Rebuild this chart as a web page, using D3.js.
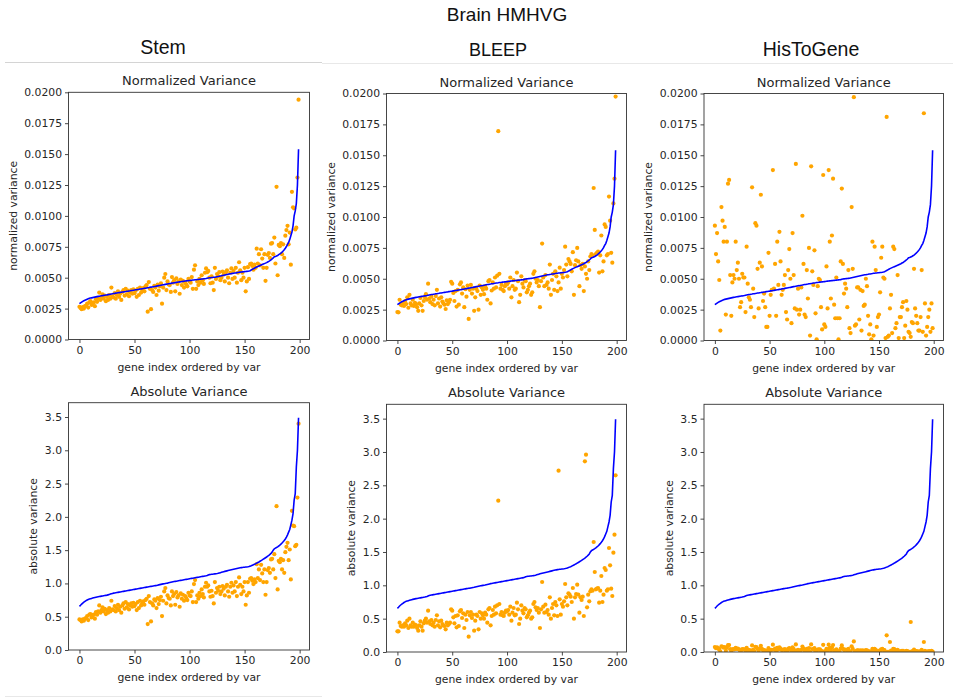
<!DOCTYPE html>
<html>
<head>
<meta charset="utf-8">
<script src="https://cdn.jsdelivr.net/npm/d3@7"></script>
<style>
  body { margin: 0; background: #fff; }
  svg text { font-family: "DejaVu Sans", sans-serif; fill: #262626; }
  .hdr { font-family: "Liberation Sans", Arial, sans-serif; fill: #111; }
</style>
</head>
<body>
<div id="chart"></div>
<script>
// ground truth variance, genes sorted by it (blue line)
var gtNorm = [
  0.00290,0.00297,0.00303,0.00309,0.00314,0.00318,0.00322,0.00326,0.00330,0.00333,
  0.00335,0.00337,0.00339,0.00341,0.00343,0.00345,0.00347,0.00349,0.00350,0.00352,
  0.00354,0.00355,0.00357,0.00358,0.00360,0.00361,0.00363,0.00364,0.00366,0.00368,
  0.00370,0.00372,0.00373,0.00375,0.00376,0.00378,0.00379,0.00381,0.00382,0.00384,
  0.00385,0.00387,0.00388,0.00390,0.00391,0.00393,0.00394,0.00396,0.00397,0.00399,
  0.00400,0.00402,0.00403,0.00405,0.00406,0.00408,0.00409,0.00411,0.00412,0.00414,
  0.00415,0.00417,0.00419,0.00420,0.00422,0.00424,0.00425,0.00427,0.00429,0.00430,
  0.00432,0.00434,0.00436,0.00437,0.00439,0.00441,0.00443,0.00444,0.00446,0.00448,
  0.00449,0.00451,0.00453,0.00454,0.00456,0.00457,0.00459,0.00460,0.00462,0.00463,
  0.00465,0.00466,0.00467,0.00469,0.00470,0.00471,0.00473,0.00474,0.00475,0.00476,
  0.00477,0.00478,0.00480,0.00481,0.00482,0.00483,0.00484,0.00485,0.00486,0.00487,
  0.00488,0.00489,0.00490,0.00491,0.00492,0.00493,0.00496,0.00498,0.00499,0.00500,
  0.00501,0.00502,0.00503,0.00504,0.00506,0.00508,0.00510,0.00512,0.00514,0.00516,
  0.00518,0.00520,0.00522,0.00524,0.00526,0.00528,0.00530,0.00532,0.00533,0.00535,
  0.00536,0.00538,0.00539,0.00541,0.00542,0.00544,0.00545,0.00546,0.00547,0.00548,
  0.00549,0.00550,0.00551,0.00552,0.00554,0.00557,0.00562,0.00567,0.00572,0.00577,
  0.00582,0.00586,0.00590,0.00594,0.00598,0.00602,0.00606,0.00610,0.00614,0.00618,
  0.00622,0.00627,0.00632,0.00638,0.00645,0.00652,0.00660,0.00670,0.00672,0.00676,
  0.00680,0.00686,0.00692,0.00699,0.00707,0.00716,0.00726,0.00738,0.00752,0.00770,
  0.00785,0.00810,0.00840,0.00870,0.00920,0.01000,0.01040,0.01100,0.01250,0.01540
];
var gtAbs = [
  0.655,0.672,0.690,0.705,0.718,0.730,0.742,0.752,0.760,0.765,
  0.770,0.775,0.780,0.785,0.789,0.793,0.797,0.800,0.803,0.806,
  0.809,0.812,0.815,0.818,0.821,0.824,0.828,0.832,0.840,0.846,
  0.850,0.854,0.857,0.860,0.863,0.866,0.869,0.872,0.875,0.878,
  0.881,0.884,0.887,0.890,0.893,0.896,0.899,0.902,0.905,0.908,
  0.911,0.914,0.917,0.920,0.923,0.926,0.929,0.932,0.935,0.938,
  0.941,0.944,0.947,0.950,0.953,0.956,0.958,0.961,0.964,0.967,
  0.970,0.974,0.978,0.982,0.986,0.990,0.993,0.996,0.999,1.002,
  1.005,1.009,1.013,1.017,1.021,1.025,1.028,1.031,1.034,1.037,
  1.040,1.043,1.046,1.049,1.052,1.055,1.058,1.061,1.064,1.067,
  1.070,1.073,1.076,1.079,1.082,1.085,1.088,1.091,1.094,1.097,
  1.100,1.103,1.106,1.109,1.112,1.115,1.120,1.128,1.132,1.135,
  1.137,1.139,1.141,1.143,1.145,1.148,1.152,1.157,1.162,1.167,
  1.172,1.177,1.181,1.185,1.189,1.193,1.197,1.201,1.205,1.209,
  1.213,1.217,1.221,1.225,1.229,1.232,1.235,1.238,1.240,1.242,
  1.244,1.246,1.248,1.251,1.255,1.260,1.266,1.273,1.280,1.288,
  1.296,1.305,1.314,1.323,1.333,1.343,1.353,1.364,1.375,1.386,
  1.397,1.409,1.422,1.436,1.452,1.470,1.500,1.520,1.530,1.540,
  1.550,1.562,1.575,1.590,1.607,1.625,1.645,1.668,1.695,1.730,
  1.770,1.810,1.880,1.950,2.050,2.250,2.350,2.750,3.000,3.490
];

// predicted variance per method (orange dots)
var stemNorm = [
  .00265,.00255,.00245,.00262,.00250,.00270,.00275,.00290,.00258,.00300,
  .00310,.00280,.00295,.00300,.00270,.00325,.00305,.00330,.00380,.00320,
  .00340,.00365,.00330,.00355,.00310,.00345,.00320,.00360,.00330,.00420,
  .00350,.00340,.00375,.00330,.00360,.00390,.00345,.00370,.00320,.00385,
  .00400,.00355,.00410,.00365,.00395,.00350,.00380,.00400,.00370,.00405,
  .00375,.00395,.00345,.00410,.00360,.00420,.00380,.00400,.00415,.00390,
  .00430,.00440,.00225,.00465,.00410,.00245,.00400,.00385,.00435,.00420,
  .00360,.00445,.00395,.00430,.00455,.00290,.00420,.00500,.00530,.00400,
  .00470,.00445,.00440,.00385,.00505,.00460,.00480,.00390,.00495,.00450,
  .00470,.00370,.00485,.00440,.00475,.00420,.00460,.00445,.00430,.00490,
  .00470,.00460,.00505,.00410,.00565,.00600,.00410,.00470,.00440,.00490,
  .00460,.00520,.00480,.00450,.00540,.00575,.00545,.00555,.00500,.00455,
  .00510,.00460,.00400,.00580,.00490,.00530,.00510,.00545,.00480,.00500,
  .00550,.00525,.00470,.00545,.00560,.00500,.00455,.00540,.00575,.00490,
  .00555,.00500,.00580,.00460,.00540,.00625,.00560,.00480,.00540,.00500,
  .00580,.00390,.00470,.00585,.00490,.00610,.00615,.00595,.00565,.00605,
  .00580,.00735,.00615,.00690,.00600,.00730,.00655,.00580,.00690,.00475,
  .00580,.00685,.00700,.00660,.00775,.00780,.00690,.00825,.00615,.01235,
  .00520,.00765,.00755,.00780,.00690,.00770,.00660,.00840,.00885,.00920,
  .00770,.00865,.00605,.01195,.01070,.01060,.00890,.00905,.01310,.01940
];
var bleepNorm = [
  .00230,.00228,.00330,.00290,.00285,.00300,.00280,.00320,.00295,.00350,
  .00265,.00370,.00300,.00285,.00330,.00280,.00305,.00295,.00270,.00240,
  .00300,.00345,.00285,.00240,.00320,.00350,.00375,.00330,.00460,.00340,
  .00310,.00355,.00295,.00330,.00285,.00360,.00410,.00300,.00340,.00275,
  .00350,.00315,.00300,.00290,.00255,.00325,.00295,.00310,.00330,.00475,
  .00460,.00385,.00320,.00400,.00275,.00410,.00290,.00455,.00470,.00380,
  .00430,.00270,.00415,.00355,.00445,.00175,.00410,.00450,.00380,.00420,
  .00240,.00350,.00420,.00400,.00250,.00445,.00370,.00430,.00410,.00375,
  .00440,.00420,.00330,.00480,.00490,.00300,.00405,.00470,.00420,.00510,
  .00430,.00525,.01695,.00540,.00420,.00450,.00410,.00400,.00440,.00460,
  .00455,.00470,.00420,.00510,.00350,.00440,.00490,.00410,.00420,.00550,
  .00480,.00310,.00370,.00520,.00460,.00430,.00490,.00480,.00390,.00410,
  .00440,.00460,.00370,.00390,.00540,.00560,.00500,.00470,.00490,.00440,
  .00270,.00480,.00785,.00510,.00440,.00530,.00450,.00470,.00420,.00615,
  .00370,.00490,.00540,.00410,.00560,.00520,.00400,.00470,.00590,.00420,
  .00540,.00510,.00570,.00760,.00615,.00520,.00660,.00640,.00620,.00560,
  .00715,.00370,.00610,.00650,.00750,.00640,.00440,.00610,.00580,.00620,
  .00400,.00600,.00540,.00500,.00640,.00570,.00680,.00700,.00690,.01235,
  .00895,.00700,.00710,.00720,.00550,.00690,.00850,.00560,.00640,.00940,
  .00920,.00690,.00700,.01165,.00970,.00710,.00630,.01110,.01310,.01975
];
var histoNorm = [
  .0093,.0070,.0087,.0064,.0049,.0008,.0108,.0097,.0080,.0092,
  .0021,.0080,.0127,.0130,.0053,.0020,.0047,.0053,.0050,.0080,
  .0057,.0063,.0050,.0027,.0031,.0054,.0051,.0051,.0023,.0076,
  .0046,.0035,.0033,.0027,.0124,.0042,.0019,.0095,.0093,.0058,
  .0026,.0063,.0118,.0060,.0032,.0038,.0027,.0011,.0011,.0071,
  .0020,.0037,.0041,.0138,.0042,.0062,.0020,.0080,.0045,.0088,
  .0064,.0037,.0041,.0045,.0053,.0023,.0017,.0057,.0074,.0050,
  .0014,.0087,.0053,.0026,.0143,.0025,.0042,.0021,.0025,.0043,
  .0101,.0062,.0021,.0019,.0057,.0034,.0075,.0004,.0141,.0056,
  .0045,.0073,.0022,.0001,.0044,.0050,.0049,.0027,.0009,.0134,
  .0013,.0011,.0060,.0026,.0138,.0080,.0034,.0085,.0131,.0029,
  .0018,.0051,.0018,.0001,.0018,.0064,.0123,.0062,.0038,.0046,
  .0042,.0027,.0057,.0010,.0006,.0108,.0058,.0197,.0012,.0013,
  .0043,.0043,.0017,.0041,.0008,.0040,.0028,.0029,.0050,.0044,
  .0020,.0005,.0013,.0001,.0080,.0004,.0076,.0057,.0011,.0019,
  .0021,.0039,.0067,.0076,.0051,.0050,.0002,.0181,.0003,.0004,
  .0026,.0037,.0006,.0076,.0074,.0010,.0014,.0053,.0002,.0019,
  .0019,.0027,.0031,.0002,.0012,.0032,.0025,.0007,.0006,.0003,
  .0015,.0014,.0058,.0026,.0020,.0014,.0008,.0008,.0019,.0057,
  .0007,.0184,.0030,.0004,.0011,.0019,.0025,.0007,.0030,.0010
];
var stemAbs = [
  .46,.45,.43,.46,.44,.47,.48,.51,.45,.53,
  .54,.49,.52,.53,.47,.57,.53,.58,.67,.56,
  .60,.64,.58,.62,.54,.60,.56,.63,.58,.74,
  .61,.60,.66,.58,.63,.68,.60,.65,.56,.67,
  .70,.62,.72,.64,.69,.61,.67,.70,.65,.71,
  .66,.69,.60,.72,.63,.74,.67,.70,.73,.68,
  .75,.77,.39,.81,.72,.43,.70,.67,.76,.74,
  .63,.78,.69,.75,.80,.51,.74,.88,.93,.70,
  .82,.78,.77,.67,.88,.81,.84,.68,.87,.79,
  .82,.65,.85,.77,.83,.74,.81,.78,.75,.86,
  .82,.81,.88,.72,.99,1.05,.72,.82,.77,.86,
  .81,.91,.84,.79,.95,1.01,.95,.97,.88,.80,
  .89,.81,.70,1.02,.86,.93,.89,.95,.84,.88,
  .96,.92,.82,.95,.98,.88,.80,.95,1.01,.86,
  .97,.88,1.02,.81,.95,1.09,.98,.84,.95,.88,
  1.02,.68,.82,1.02,.86,1.07,1.08,1.04,.99,1.06,
  1.02,1.29,1.08,1.21,1.05,1.28,1.15,1.02,1.21,.83,
  1.02,1.20,1.23,1.16,1.36,1.37,1.21,1.44,1.08,2.16,
  .91,1.34,1.32,1.37,1.21,1.35,1.16,1.47,1.55,1.61,
  1.35,1.51,1.06,2.09,1.87,1.86,1.56,1.58,2.29,3.40
];
var bleepAbs = [
  .31,.31,.44,.39,.38,.40,.38,.43,.40,.47,
  .36,.50,.40,.38,.44,.38,.41,.40,.36,.32,
  .40,.46,.38,.32,.43,.47,.50,.44,.62,.46,
  .42,.48,.40,.44,.38,.48,.55,.40,.46,.37,
  .47,.42,.40,.39,.34,.44,.40,.42,.44,.64,
  .62,.52,.43,.54,.37,.55,.39,.61,.63,.51,
  .58,.36,.56,.48,.60,.23,.55,.60,.51,.56,
  .32,.47,.56,.54,.34,.60,.50,.58,.55,.50,
  .59,.56,.44,.64,.66,.40,.54,.63,.56,.68,
  .58,.70,2.27,.72,.56,.60,.55,.54,.59,.62,
  .61,.63,.56,.68,.47,.59,.66,.55,.56,.74,
  .64,.42,.50,.70,.62,.58,.66,.64,.52,.55,
  .59,.62,.50,.52,.72,.75,.67,.63,.66,.59,
  .36,.64,1.05,.68,.59,.71,.60,.63,.56,.82,
  .50,.66,.72,.55,.75,.70,.54,2.72,.79,.56,
  .72,.68,.76,1.02,.82,.70,.88,.86,.83,.75,
  .96,.50,.82,.87,1.01,.86,.59,.82,.78,.83,
  .54,2.86,2.96,.67,.86,.76,.91,.94,.92,1.65,
  1.20,.94,.95,.96,.74,.92,1.14,.75,.86,1.26,
  1.23,.92,.94,1.56,1.30,.95,.84,1.49,1.76,2.65
];
var histoAbs = [
  .075,.056,.070,.051,.039,.006,.086,.078,.064,.074,
  .017,.064,.102,.104,.042,.016,.038,.042,.040,.064,
  .046,.050,.040,.022,.025,.043,.041,.041,.018,.061,
  .037,.028,.026,.022,.099,.034,.015,.076,.074,.046,
  .021,.050,.094,.048,.026,.030,.022,.009,.009,.057,
  .016,.030,.033,.110,.034,.050,.016,.064,.036,.070,
  .051,.030,.033,.036,.042,.018,.014,.046,.059,.040,
  .011,.070,.042,.021,.114,.020,.034,.017,.020,.034,
  .081,.050,.017,.015,.046,.027,.060,.003,.113,.045,
  .036,.058,.018,.001,.035,.040,.039,.022,.007,.107,
  .010,.009,.048,.021,.110,.064,.027,.068,.105,.023,
  .014,.041,.014,.001,.014,.051,.098,.050,.030,.037,
  .034,.022,.046,.008,.005,.086,.046,.158,.010,.010,
  .026,.026,.010,.025,.005,.024,.017,.017,.030,.026,
  .012,.003,.008,.001,.048,.002,.046,.034,.007,.011,
  .013,.023,.040,.046,.031,.030,.001,.250,.002,.002,
  .150,.022,.004,.046,.044,.006,.008,.032,.001,.011,
  .011,.016,.019,.001,.007,.019,.015,.004,.004,.450,
  .009,.008,.035,.016,.012,.008,.005,.005,.011,.034,
  .004,.150,.018,.002,.007,.011,.015,.004,.018,.006
];

var normTicks = [0, 0.0025, 0.005, 0.0075, 0.01, 0.0125, 0.015, 0.0175, 0.02];
var absTicks = [0, 0.5, 1, 1.5, 2, 2.5, 3, 3.5];
var xTicks = [0, 50, 100, 150, 200];
var methods = ["Stem", "BLEEP", "HisToGene"];

var W = 953, H = 698;
var svg = d3.select("#chart").append("svg").attr("width", W).attr("height", H);

// faint separators left over from the slide layout
svg.append("line").attr("x1", 5).attr("x2", 322).attr("y1", 62.5).attr("y2", 62.5).attr("stroke", "#d4d4d4");
svg.append("line").attr("x1", 322).attr("x2", 953).attr("y1", 63.5).attr("y2", 63.5).attr("stroke", "#e8e8e8");
svg.append("line").attr("x1", 5).attr("x2", 322).attr("y1", 696.5).attr("y2", 696.5).attr("stroke", "#e8e8e8");

svg.append("text").attr("class", "hdr").attr("x", 507).attr("y", 21)
  .attr("text-anchor", "middle").style("font-size", "19px").text("Brain HMHVG");
// x, baseline, font size
var hdrPos = [[163, 54, 19.5], [498, 56, 18], [811, 56, 19.5]];
methods.forEach(function (m, i) {
  svg.append("text").attr("class", "hdr").attr("x", hdrPos[i][0]).attr("y", hdrPos[i][1])
    .attr("text-anchor", "middle").style("font-size", hdrPos[i][2] + "px").text(m);
});

// panel boxes: left, top, right, bottom
var panels = [
  {box: [68.5, 92.3, 309.5, 339.5], pred: stemNorm, gt: gtNorm, kind: "norm"},
  {box: [386.5, 93.5, 626.5, 340.5], pred: bleepNorm, gt: gtNorm, kind: "norm"},
  {box: [704, 93.5, 943.5, 340.5], pred: histoNorm, gt: gtNorm, kind: "norm"},
  {box: [68.5, 402.7, 309.5, 650], pred: stemAbs, gt: gtAbs, kind: "abs"},
  {box: [386.5, 404.3, 626.5, 652], pred: bleepAbs, gt: gtAbs, kind: "abs"},
  {box: [704, 404.3, 943.5, 652], pred: histoAbs, gt: gtAbs, kind: "abs"}
];

panels.forEach(function (p, k) {
  var b = p.box;
  var isNorm = p.kind === "norm";
  var x = d3.scaleLinear().domain([-9.95, 208.95]).range([b[0], b[2]]);
  var y = d3.scaleLinear().domain(isNorm ? [0, 0.02] : [0, 3.715]).range([b[3], b[1]]);
  var g = svg.append("g");

  var clipId = "clip" + k;
  svg.append("clipPath").attr("id", clipId).append("rect")
    .attr("x", b[0]).attr("y", b[1]).attr("width", b[2] - b[0]).attr("height", b[3] - b[1]);
  var plot = g.append("g").attr("clip-path", "url(#" + clipId + ")");

  plot.selectAll("circle").data(p.pred).enter().append("circle")
    .attr("cx", function (d, i) { return x(i); })
    .attr("cy", function (d) { return y(d); })
    .attr("r", 2.1)
    .attr("fill", "#FFA500");

  var line = d3.line().x(function (d, i) { return x(i); }).y(function (d) { return y(d); });
  plot.append("path").datum(p.gt).attr("d", line)
    .attr("fill", "none").attr("stroke", "#0000FF").attr("stroke-width", 1.6);

  var xAxis = g.append("g").attr("transform", "translate(0," + b[3] + ")")
    .call(d3.axisBottom(x).tickValues(xTicks).tickSize(3.5).tickPadding(3).tickFormat(d3.format("d")));
  var yAxis = g.append("g").attr("transform", "translate(" + b[0] + ",0)")
    .call(d3.axisLeft(y).tickValues(isNorm ? normTicks : absTicks).tickSize(3.5).tickPadding(3)
      .tickFormat(d3.format(isNorm ? ".4f" : ".1f")));
  [xAxis, yAxis].forEach(function (a) {
    a.select(".domain").remove();
    a.selectAll("line").attr("stroke", "#333").attr("stroke-width", 0.9);
    a.selectAll("text").style("font-size", "10.8px").style("font-family", "DejaVu Sans").attr("fill", "#262626");
  });

  g.append("rect").attr("x", b[0]).attr("y", b[1]).attr("width", b[2] - b[0]).attr("height", b[3] - b[1])
    .attr("fill", "none").attr("stroke", "#333").attr("stroke-width", 0.9);

  g.append("text").attr("x", (b[0] + b[2]) / 2).attr("y", b[1] - 7)
    .attr("text-anchor", "middle").style("font-size", "13px")
    .text(isNorm ? "Normalized Variance" : "Absolute Variance");

  g.append("text").attr("x", (b[0] + b[2]) / 2).attr("y", b[3] + 31)
    .attr("text-anchor", "middle").style("font-size", "10.8px")
    .text("gene index ordered by var");

  var lx = b[0] - (isNorm ? 52 : 31.5);
  g.append("text").attr("transform", "translate(" + lx + "," + ((b[1] + b[3]) / 2) + ") rotate(-90)")
    .attr("text-anchor", "middle").style("font-size", "10.8px")
    .text(isNorm ? "normalized variance" : "absolute variance");
});
</script>
</body>
</html>
